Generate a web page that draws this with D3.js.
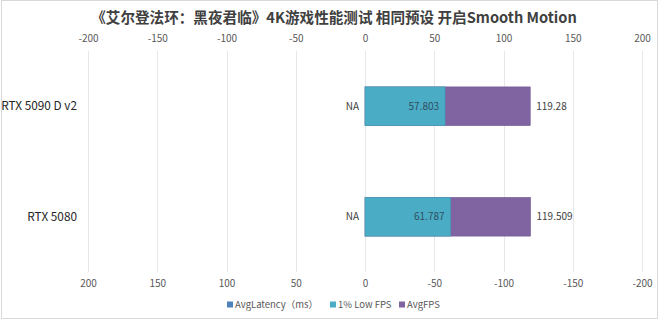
<!DOCTYPE html>
<html>
<head>
<meta charset="utf-8">
<script src="https://cdn.jsdelivr.net/npm/d3@7/dist/d3.min.js"></script>
<style>
  html, body { margin: 0; padding: 0; background: #fff; }
  svg { display: block; }
  text { font-family: "Noto Sans CJK SC", "Noto Sans", sans-serif; }
</style>
</head>
<body>
<svg id="chart" width="660" height="323"></svg>
<script>
const title = "《艾尔登法环：黑夜君临》4K游戏性能测试 相同预设 开启Smooth Motion";
const categories = ["RTX 5090 D v2", "RTX 5080"];
const avgLatency = [null, null];
const lowFps = [57.803, 61.787];
const avgFps = [119.28, 119.509];
const topTicks = [-200, -150, -100, -50, 0, 50, 100, 150, 200];
const bottomTicks = [200, 150, 100, 50, 0, -50, -100, -150, -200];
const seriesNames = ["AvgLatency（ms）", "1% Low FPS", "AvgFPS"];
const seriesColors = ["#4f81bd", "#4bacc6", "#8064a2"];

const svg = d3.select("#chart");
const W = 660, H = 323;
const plot = { left: 88, right: 642, top: 51, bottom: 272 };

svg.append("rect").attr("x", 1.5).attr("y", 0.5).attr("width", W - 4).attr("height", H - 5)
  .attr("fill", "#fff").attr("stroke", "#d9d9d9").attr("stroke-width", 1);

const xTop = d3.scaleLinear().domain([-200, 200]).range([plot.left, plot.right]);
const xBot = d3.scaleLinear().domain([200, -200]).range([plot.left, plot.right]);
const y = d3.scaleBand().domain(categories).range([plot.top, plot.bottom])
  .paddingInner(0.65).paddingOuter(0.325);

const fmt = d => String(d);

// gridlines
svg.append("g").selectAll("line").data(topTicks).join("line")
  .attr("x1", d => Math.round(xTop(d)) + 0.5).attr("x2", d => Math.round(xTop(d)) + 0.5)
  .attr("y1", plot.top).attr("y2", plot.bottom)
  .attr("stroke", "#e6e6e6").attr("stroke-width", 1);

// top axis
const topAxis = svg.append("g").attr("transform", `translate(0,${plot.top})`)
  .call(d3.axisTop(xTop).tickValues(topTicks).tickSize(0).tickPadding(9).tickFormat(fmt));
topAxis.select(".domain").remove();
topAxis.selectAll("text").attr("fill", "#595959").style("font-size", "10px");

// bottom axis
const botAxis = svg.append("g").attr("transform", `translate(0,${plot.bottom})`)
  .call(d3.axisBottom(xBot).tickValues(bottomTicks).tickSize(0).tickPadding(8).tickFormat(fmt));
botAxis.select(".domain").remove();
botAxis.selectAll("text").attr("fill", "#595959").style("font-size", "10px");

// category labels
svg.append("g").selectAll("text").data(categories).join("text")
  .attr("x", 77).attr("y", d => y(d) + y.bandwidth() / 2)
  .attr("dy", "0.35em").attr("text-anchor", "end")
  .attr("fill", "#262626").style("font-size", "11.8px").text(d => d);

const rows = categories.map((c, i) => ({ c, lat: avgLatency[i], low: lowFps[i], avg: avgFps[i] }));

// AvgFPS bars (behind)
svg.append("g").selectAll("rect").data(rows).join("rect")
  .attr("x", xTop(0)).attr("y", d => y(d.c))
  .attr("width", d => xTop(d.avg) - xTop(0)).attr("height", y.bandwidth())
  .attr("fill", seriesColors[2]).attr("stroke", "#6f5592").attr("stroke-width", 0.6);

// 1% Low bars (front)
svg.append("g").selectAll("rect").data(rows).join("rect")
  .attr("x", xTop(0)).attr("y", d => y(d.c))
  .attr("width", d => xTop(d.low) - xTop(0)).attr("height", y.bandwidth())
  .attr("fill", seriesColors[1]).attr("stroke", "#3f9ab3").attr("stroke-width", 0.6);

// latency bars (NA -> none)
svg.append("g").selectAll("rect").data(rows.filter(d => d.lat != null)).join("rect")
  .attr("x", d => xBot(d.lat)).attr("y", d => y(d.c))
  .attr("width", d => xBot(0) - xBot(d.lat)).attr("height", y.bandwidth())
  .attr("fill", seriesColors[0]);

const lbl = svg.append("g").style("font-size", "10px").attr("fill", "#404040");
lbl.selectAll(".na").data(rows).join("text").attr("class", "na")
  .attr("x", d => (d.lat == null ? xBot(0) : xBot(d.lat)) - 6)
  .attr("y", d => y(d.c) + y.bandwidth() / 2).attr("dy", "0.35em")
  .attr("text-anchor", "end").text(d => d.lat == null ? "NA" : d.lat);
lbl.selectAll(".low").data(rows).join("text").attr("class", "low")
  .attr("x", d => xTop(d.low) - 6)
  .attr("y", d => y(d.c) + y.bandwidth() / 2).attr("dy", "0.35em")
  .attr("text-anchor", "end").attr("fill", "#2f4f5f").text(d => d.low);
lbl.selectAll(".avg").data(rows).join("text").attr("class", "avg")
  .attr("x", d => xTop(d.avg) + 6)
  .attr("y", d => y(d.c) + y.bandwidth() / 2).attr("dy", "0.35em")
  .attr("text-anchor", "start").text(d => d.avg);

// title
svg.append("text").attr("x", 334).attr("y", 23).attr("text-anchor", "middle")
  .attr("fill", "#404040").style("font-size", "14.6px").style("font-weight", "bold").text(title);

// legend
const legX = [227, 330, 399];
const leg = svg.append("g").selectAll("g").data(seriesNames).join("g")
  .attr("transform", (d, i) => `translate(${legX[i]},305)`);
leg.append("rect").attr("x", 0).attr("y", -3.5).attr("width", 6).attr("height", 6)
  .attr("fill", (d, i) => seriesColors[i]);
leg.append("text").attr("x", 8).attr("y", 0).attr("dy", "0.35em")
  .attr("fill", "#595959").style("font-size", "9.5px").text(d => d);
</script>
</body>
</html>
